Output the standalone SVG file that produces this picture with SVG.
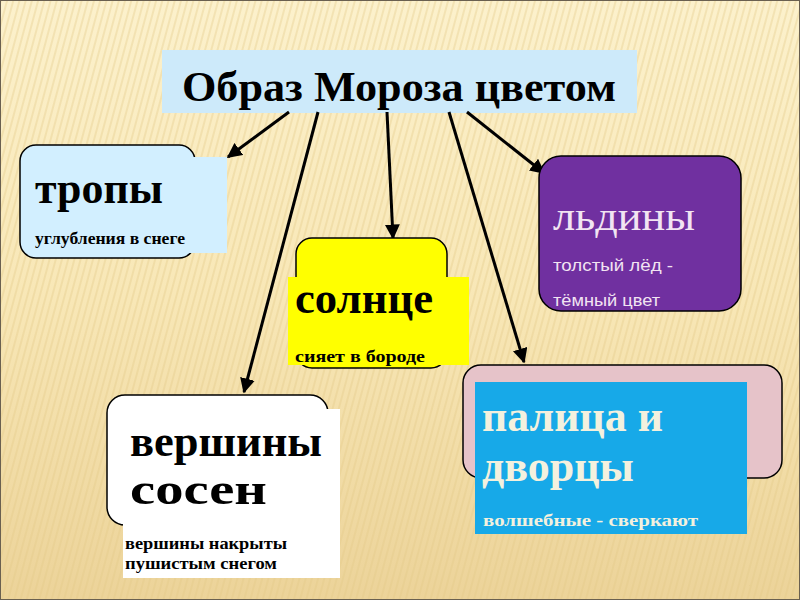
<svg xmlns="http://www.w3.org/2000/svg" width="800" height="600" viewBox="0 0 800 600">
<defs>
<linearGradient id="bg" x1="0" y1="0" x2="0" y2="1">
<stop offset="0" stop-color="#fcf1cc"/>
<stop offset="0.5" stop-color="#f8e7b6"/>
<stop offset="1" stop-color="#ecd399"/>
</linearGradient>
<pattern id="stripes" width="6" height="6" patternUnits="userSpaceOnUse" patternTransform="rotate(15)">
<rect width="2" height="6" fill="#e2c886" opacity="0.35"/>
</pattern>
<marker id="ah" viewBox="0 0 10 10" refX="9" refY="5" markerWidth="5" markerHeight="5" orient="auto" markerUnits="strokeWidth">
<path d="M0,0 L10,5 L0,10 z" fill="#000"/>
</marker>
<style>
.conn{stroke:#000;stroke-width:3;fill:none;marker-end:url(#ah)}
.rr{stroke:#000;stroke-width:1.5}
.big{font-family:"Liberation Serif","Times New Roman",serif;font-weight:bold;font-size:44px}
.small{font-family:"Liberation Serif","Times New Roman",serif;font-weight:bold;font-size:16px}
.dark{fill:#000}
.light{fill:#f3f1de}
</style>
</defs>
<rect width="800" height="600" fill="url(#bg)"/>
<rect width="800" height="600" fill="url(#stripes)"/>
<rect x="0.5" y="0.5" width="799" height="599" fill="none" stroke="#6a6050" stroke-width="1"/>

<g id="title">
<rect x="162" y="50" width="475" height="63" fill="#cdeafa"/>
<text x="182" y="101" textLength="434" lengthAdjust="spacingAndGlyphs" font-family="Liberation Serif, serif" font-weight="bold" font-size="42" fill="#000">Образ Мороза цветом</text>
</g>

<g id="connectors">
<line class="conn" x1="289" y1="112" x2="228" y2="157"/>
<line class="conn" x1="318" y1="112" x2="244" y2="392"/>
<line class="conn" x1="387" y1="112" x2="393" y2="238"/>
<line class="conn" x1="449" y1="112" x2="524" y2="362"/>
<line class="conn" x1="467" y1="112" x2="544" y2="173"/>
</g>

<g id="tropy">
<rect class="rr" x="20" y="145" width="175" height="113" rx="16" fill="#d2efff"/>
<rect x="30" y="157" width="197" height="96" fill="#d2efff"/>
<text class="big dark" x="35" y="203" textLength="128" lengthAdjust="spacingAndGlyphs">тропы</text>
<text class="small dark" x="35" y="244" textLength="150" lengthAdjust="spacingAndGlyphs">углубления в снеге</text>
</g>

<g id="solnce">
<rect class="rr" x="296" y="238" width="151" height="130" rx="16" fill="#ffff00"/>
<rect x="288" y="277" width="181" height="88" fill="#ffff00"/>
<text class="big dark" x="295" y="313" textLength="138" lengthAdjust="spacingAndGlyphs">солнце</text>
<text class="small dark" x="295" y="362" textLength="130" lengthAdjust="spacingAndGlyphs">сияет в бороде</text>
</g>

<g id="ldiny">
<rect class="rr" x="539" y="156" width="202" height="155" rx="22" fill="#7030a0"/>
<text x="553" y="230" textLength="142" lengthAdjust="spacingAndGlyphs" font-family="Liberation Serif, serif" font-size="42" fill="#f2e4f2">льдины</text>
<text x="553" y="271" textLength="120" lengthAdjust="spacingAndGlyphs" font-family="Liberation Sans, Arial, sans-serif" font-size="17" fill="#f2e4f2">толстый лёд  -</text>
<text x="553" y="306" textLength="107" lengthAdjust="spacingAndGlyphs" font-family="Liberation Sans, Arial, sans-serif" font-size="17" fill="#f2e4f2">тёмный цвет</text>
</g>

<g id="vershiny">
<rect class="rr" x="107" y="395" width="221" height="130" rx="18" fill="#ffffff"/>
<rect x="123" y="409" width="217" height="169" fill="#ffffff"/>
<text class="big dark" x="130" y="456" textLength="192" lengthAdjust="spacingAndGlyphs">вершины</text>
<text class="big dark" x="130" y="504" textLength="137" lengthAdjust="spacingAndGlyphs">сосен</text>
<text class="small dark" x="125" y="549" textLength="162" lengthAdjust="spacingAndGlyphs">вершины накрыты</text>
<text class="small dark" x="125" y="569" textLength="152" lengthAdjust="spacingAndGlyphs">пушистым снегом</text>
</g>

<g id="palica">
<rect class="rr" x="463" y="365" width="319" height="113" rx="18" fill="#e6c3c9"/>
<rect x="475" y="382" width="272" height="152" fill="#17a9e8"/>
<text class="big light" x="482" y="431" textLength="181" lengthAdjust="spacingAndGlyphs">палица и</text>
<text class="big light" x="482" y="481" textLength="152" lengthAdjust="spacingAndGlyphs">дворцы</text>
<text class="small light" x="483" y="526" textLength="215" lengthAdjust="spacingAndGlyphs">волшебные  -  сверкают</text>
</g>
</svg>
